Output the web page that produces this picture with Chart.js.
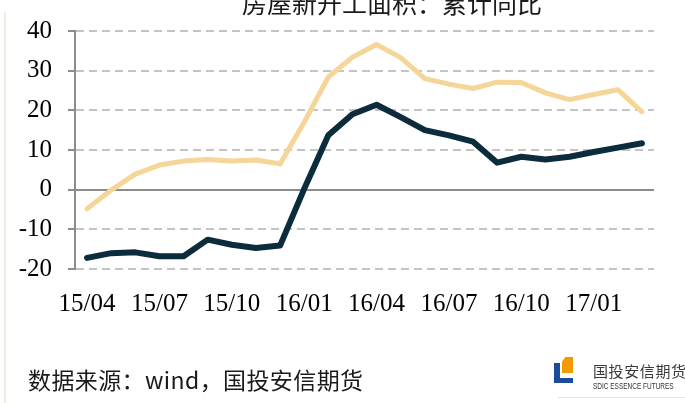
<!DOCTYPE html>
<html>
<head>
<meta charset="utf-8">
<script src="https://cdn.jsdelivr.net/npm/chart.js@4.4.0/dist/chart.umd.min.js"></script>
<style>
html, body { margin: 0; padding: 0; background: #fff; }
#marco { position: relative; width: 685px; height: 403px; overflow: hidden; background: #fff; }
#grafico { position: absolute; left: 0; top: 0; }
.borde { position: absolute; left: 4px; top: 12px; width: 2px; height: 391px; background: #f1ede1; }
.titulo { position: absolute; left: 242px; top: -10px; font: 25px/25px "Noto Sans CJK SC"; color: #1a1a1a; white-space: nowrap; }
.fuente { position: absolute; left: 28px; top: 368px; font: 23px/23px "Noto Sans CJK SC"; color: #1a1a1a; white-space: nowrap; letter-spacing: 0.4px; }
.logo-naranja { position: absolute; left: 562px; top: 357px; width: 11px; height: 16px; background: #f39a00; clip-path: polygon(30% 0, 100% 0, 100% 100%, 0 100%, 0 30%); }
.logo-azul1 { position: absolute; left: 554px; top: 363px; width: 6px; height: 20px; background: #1b4c9a; }
.logo-azul2 { position: absolute; left: 554px; top: 378px; width: 19px; height: 5px; background: #1b4c9a; }
.logo-cn { position: absolute; left: 593px; top: 362px; font: 15px/17px "Noto Sans CJK SC"; color: #3a3a3a; letter-spacing: 0.6px; white-space: nowrap; }
.logo-en { position: absolute; left: 593px; top: 381px; font: 9px/10px "Liberation Sans"; color: #333; white-space: nowrap; transform: scaleX(0.72); transform-origin: 0 0; }
.logo-linea { position: absolute; left: 558px; top: 397px; width: 127px; height: 1px; background: #e3e3e3; }
</style>
</head>
<body>
<div id="marco">
  <canvas id="grafico" width="685" height="403"></canvas>
  <div class="borde"></div>
  <div class="titulo">房屋新开工面积：累计同比</div>
  <div class="fuente">数据来源：wind，国投安信期货</div>
  <div class="logo-naranja"></div>
  <div class="logo-azul1"></div>
  <div class="logo-azul2"></div>
  <div class="logo-cn">国投安信期货</div>
  <div class="logo-en">SDIC ESSENCE FUTURES</div>
  <div class="logo-linea"></div>
</div>
<script>
// meses del eje (categorias)
const meses = ['15/04', '15/05', '15/06', '15/07', '15/08', '15/09', '15/10', '15/11', '15/12',
               '16/01', '16/02', '16/03', '16/04', '16/05', '16/06', '16/07', '16/08', '16/09',
               '16/10', '16/11', '16/12', '17/01', '17/02', '17/03']
// etiquetas visibles en el eje x
const etiquetasEje = ['15/04', '15/07', '15/10', '16/01', '16/04', '16/07', '16/10', '17/01']
// serie clara (amarilla)
const valoresClaros = [-4.8, -0.1, 3.9, 6.2, 7.2, 7.6, 7.2, 7.5, 6.5, 17.0, 28.4, 33.4,
                       36.6, 33.3, 28.0, 26.6, 25.5, 27.1, 27.0, 24.4, 22.7, 24.0, 25.2, 19.6]
// serie oscura (azul marino)
const valoresOscuros = [-17.2, -16.0, -15.8, -16.8, -16.8, -12.6, -13.9, -14.7, -14.1, 0.2, 13.7, 19.0,
                        21.4, 18.3, 15.0, 13.7, 12.1, 6.8, 8.3, 7.6, 8.3, 9.5, 10.6, 11.7]
// ticks del eje y
const ejeY = { min: -20, max: 40, paso: 10 }

const fuenteEje = { family: 'Liberation Serif', size: 25 }

const ctx = document.getElementById('grafico')

new Chart(ctx, {
    type: 'line',
    data: {
        labels: meses,
        datasets: [{
            label: '累计同比(浅)',
            data: valoresClaros,
            borderColor: '#f5d598',
            borderWidth: 5,
            pointRadius: 0,
            tension: 0,
            borderCapStyle: 'round',
            borderJoinStyle: 'round'
        }, {
            label: '累计同比(深)',
            data: valoresOscuros,
            borderColor: '#0c2b3c',
            borderWidth: 6,
            pointRadius: 0,
            tension: 0,
            borderCapStyle: 'round',
            borderJoinStyle: 'round'
        }]
    },
    options: {
        responsive: false,
        animation: false,
        layout: { padding: { top: 30, right: 31, left: 0, bottom: 0 } },
        plugins: {
            legend: { display: false },
            title: { display: false },
            tooltip: { enabled: false }
        },
        scales: {
            x: {
                offset: true,
                grid: { display: false, drawTicks: false },
                border: { display: false },
                ticks: {
                    autoSkip: false,
                    maxRotation: 0,
                    minRotation: 0,
                    padding: 20,
                    color: '#000',
                    font: fuenteEje,
                    callback: (v, i) => etiquetasEje.includes(meses[i]) ? meses[i] : ''
                },
                afterFit: s => { s.height = 134 }
            },
            y: {
                min: ejeY.min,
                max: ejeY.max,
                ticks: { stepSize: ejeY.paso, padding: 16, color: '#000', font: fuenteEje },
                grid: {
                    color: c => (c.tick && c.tick.value === 0) ? '#8c8c8c' : '#c4c4c4',
                    lineWidth: 2,
                    tickColor: '#8c8c8c',
                    tickWidth: 2,
                    tickLength: 7
                },
                border: {
                    display: true,
                    color: '#8c8c8c',
                    width: 2,
                    dash: c => (c.tick && c.tick.value === 0) ? [] : [8, 5]
                },
                afterFit: s => { s.width = 75 }
            }
        }
    }
})
</script>
</body>
</html>
